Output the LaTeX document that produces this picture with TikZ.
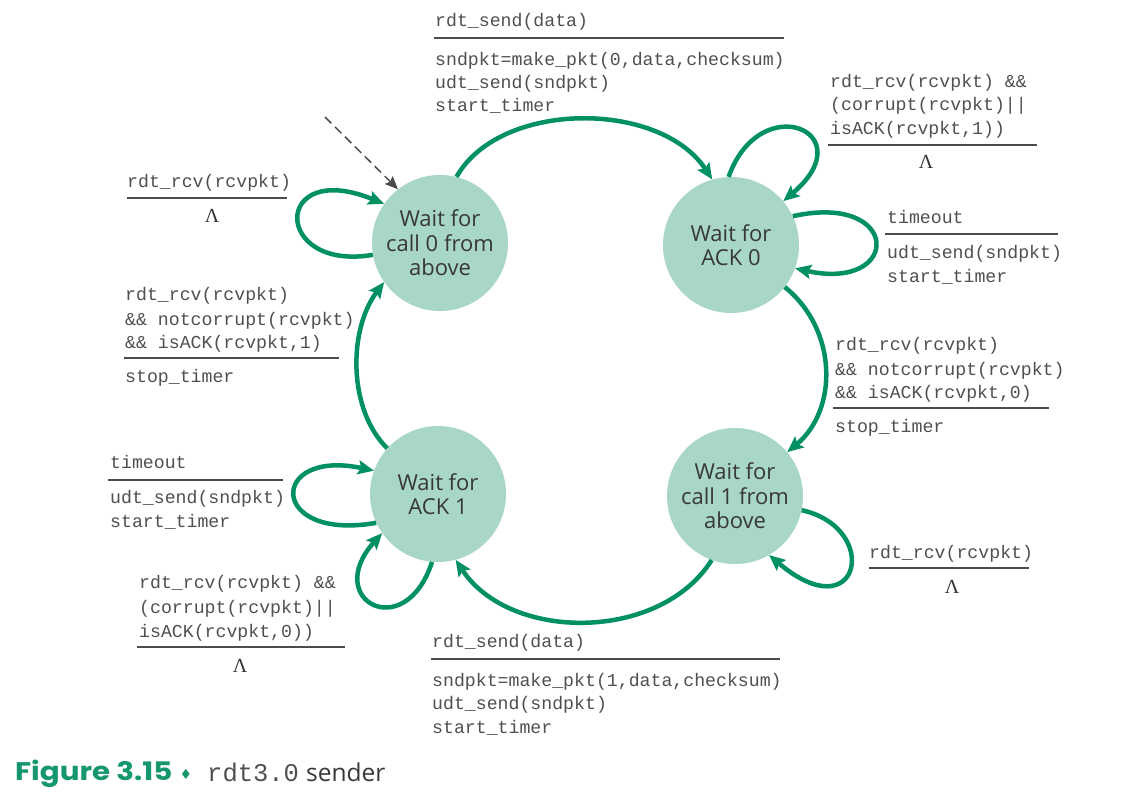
\documentclass[tikz,border=0pt]{standalone}
\usepackage{fontspec}
\setmainfont{Open Sans}
\setmonofont{Liberation Mono}
\newfontfamily\dejavu{DejaVu Sans}
\newfontfamily\capfont{Poppins}
\newfontfamily\lamfont{Liberation Serif}
\usetikzlibrary{arrows.meta}
\definecolor{fsmgreen}{RGB}{0,144,100}
\definecolor{statefill}{RGB}{168,214,200}
\definecolor{txt}{RGB}{80,80,80}
\definecolor{captgreen}{RGB}{20,150,110}
\begin{document}
\begin{tikzpicture}[x=1pt,y=-1pt,
  state/.style={circle, fill=statefill, minimum size=136pt, inner sep=0pt, align=center,
    font=\fontsize{22}{24.5}\selectfont, text=black!78},
  trans/.style={draw=fsmgreen, line width=4.5pt, -{Stealth[length=16pt,width=14pt,inset=3pt]}},
  initarrow/.style={draw=black!70, line width=1.5pt, dashed, dash pattern=on 9pt off 5pt,
    -{Stealth[length=13pt,width=11pt,inset=2pt]}},
  lbl/.style={anchor=base west, inner sep=0pt, font=\ttfamily\fontsize{18.2}{23}\selectfont, text=txt},
  sep/.style={draw=black!70, line width=1.8pt},
  lam/.style={anchor=base, inner sep=0pt, font=\lamfont\fontsize{20}{20}\selectfont, text=black!80},
  captxt/.style={anchor=base west, inner sep=0pt}]
\fill[white] (0,0) rectangle (1140,798);
\useasboundingbox (0,0) rectangle (1140,798);

% states
\node[state] (s0) at (440,243) {Wait for\\call 0 from\\above};
\node[state] (a0) at (731,245) {Wait for\\ACK 0};
\node[state] (a1) at (438,494) {Wait for\\ACK 1};
\node[state] (s1) at (735,496) {Wait for\\call 1 from\\above};

% initial arrow
\coordinate (init) at (325,117);
\draw[initarrow] (init) -- (s0.128);

% main transitions
\draw[trans] (s0.76) .. controls (500,100) and (660,100) .. (a0.106);
\draw[trans] (a0.-38) .. controls (838,330) and (838,410) .. (s1.40);
\draw[trans] (s1.-110) .. controls (660,642) and (510,642) .. (a1.-75);
\draw[trans] (a1.138) .. controls (348,410) and (348,330) .. (s0.215);

% self loops
\draw[trans] (s0.190) .. controls (272,272) and (272,158) .. (s0.145);
\draw[trans] (a0.92) .. controls (760,88) and (865,132) .. (a0.40);
\draw[trans] (a0.25) .. controls (902,192) and (902,292) .. (a0.-20);
\draw[trans] (s1.-12) .. controls (882,528) and (860,632) .. (s1.-60);
\draw[trans] (a1.205) .. controls (268,542) and (268,448) .. (a1.160);
\draw[trans] (a1.-95) .. controls (405,645) and (322,600) .. (a1.215);

% top label
\node[lbl] (t1) at (435,26) {rdt\_send(data)};
\coordinate (t1l) at (434,38); \coordinate (t1r) at (784,38);
\draw[sep] (t1l) -- (t1r);
\node[lbl] (t2) at (435,65) {sndpkt=make\_pkt(0,data,checksum)};
\node[lbl] (t3) at (435,88) {udt\_send(sndpkt)};
\node[lbl] (t4) at (435,111) {start\_timer};

% top-right label
\node[lbl] (r1) at (830,87) {rdt\_rcv(rcvpkt) \&\&};
\node[lbl] (r2) at (830,110) {(corrupt(rcvpkt)||};
\node[lbl] (r3) at (830,134) {isACK(rcvpkt,1))};
\coordinate (r1l) at (828,145); \coordinate (r1r) at (1037,145);
\draw[sep] (r1l) -- (r1r);
\node[lam] (r4) at (926,168) {Λ};

% right timeout label
\node[lbl] (o1) at (887,223) {timeout};
\coordinate (o1l) at (885,234); \coordinate (o1r) at (1058,234);
\draw[sep] (o1l) -- (o1r);
\node[lbl] (o2) at (887,258) {udt\_send(sndpkt)};
\node[lbl] (o3) at (887,282) {start\_timer};

% right middle label
\node[lbl] (m1) at (835,350) {rdt\_rcv(rcvpkt)};
\node[lbl] (m2) at (835,375) {\&\& notcorrupt(rcvpkt)};
\node[lbl] (m3) at (835,398) {\&\& isACK(rcvpkt,0)};
\coordinate (m1l) at (833,408); \coordinate (m1r) at (1049,408);
\draw[sep] (m1l) -- (m1r);
\node[lbl] (m4) at (835,432) {stop\_timer};

% right bottom label
\node[lbl] (b1) at (869,558) {rdt\_rcv(rcvpkt)};
\coordinate (b1l) at (869,568); \coordinate (b1r) at (1029,568);
\draw[sep] (b1l) -- (b1r);
\node[lam] (b2) at (952,593) {Λ};

% bottom label
\node[lbl] (d1) at (432,647) {rdt\_send(data)};
\coordinate (d1l) at (431,659); \coordinate (d1r) at (780,659);
\draw[sep] (d1l) -- (d1r);
\node[lbl] (d2) at (432,686) {sndpkt=make\_pkt(1,data,checksum)};
\node[lbl] (d3) at (432,709) {udt\_send(sndpkt)};
\node[lbl] (d4) at (432,733) {start\_timer};

% left top label
\node[lbl] (l1) at (127,187) {rdt\_rcv(rcvpkt)};
\coordinate (l1l) at (127,198); \coordinate (l1r) at (287,198);
\draw[sep] (l1l) -- (l1r);
\node[lam] (l2) at (212,222) {Λ};

% left middle label
\node[lbl] (n1) at (125,300) {rdt\_rcv(rcvpkt)};
\node[lbl] (n2) at (125,325) {\&\& notcorrupt(rcvpkt)};
\node[lbl] (n3) at (125,348) {\&\& isACK(rcvpkt,1)};
\coordinate (n1l) at (124,358); \coordinate (n1r) at (339,358);
\draw[sep] (n1l) -- (n1r);
\node[lbl] (n4) at (125,382) {stop\_timer};

% left timeout label
\node[lbl] (p1) at (110,468) {timeout};
\coordinate (p1l) at (108,480); \coordinate (p1r) at (283,480);
\draw[sep] (p1l) -- (p1r);
\node[lbl] (p2) at (110,503) {udt\_send(sndpkt)};
\node[lbl] (p3) at (110,527) {start\_timer};

% left bottom label
\node[lbl] (q1) at (139,588) {rdt\_rcv(rcvpkt) \&\&};
\node[lbl] (q2) at (139,613) {(corrupt(rcvpkt)||};
\node[lbl] (q3) at (139,637) {isACK(rcvpkt,0))};
\coordinate (q1l) at (137,647); \coordinate (q1r) at (345,647);
\draw[sep] (q1l) -- (q1r);
\node[lam] (q4) at (240,672) {Λ};

% caption
\node[captxt, text=captgreen] (cap1) at (15,780)
  {\scalebox{1.15}[1]{\capfont\fontsize{25.5}{25.5}\selectfont\bfseries Figure 3.15}};
\node[anchor=base, inner sep=0pt, text=captgreen] (cap2) at (186,779)
  {\dejavu\fontsize{14}{14}\selectfont ♦};
\node[captxt, text=txt] (cap3) at (207,781)
  {\ttfamily\fontsize{25.5}{25.5}\selectfont rdt3.0};
\node[captxt, text=black!78] (cap4) at (306,781)
  {\fontsize{24.5}{24.5}\selectfont sender};
\end{tikzpicture}
\end{document}
